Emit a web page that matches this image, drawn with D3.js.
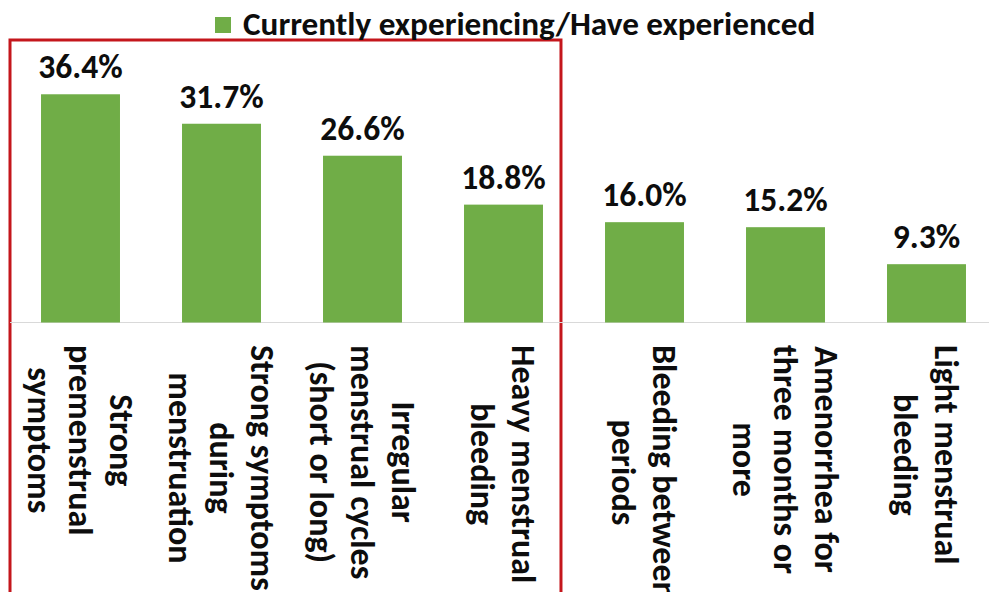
<!DOCTYPE html>
<html>
<head>
<meta charset="utf-8">
<script src="https://cdn.jsdelivr.net/npm/d3@7"></script>
<style>
  html, body { margin: 0; padding: 0; background: #ffffff; }
  svg { display: block; }
  text { font-family: Calibri, Carlito, Lato, "Liberation Sans", sans-serif; font-weight: bold; fill: #0d0d0d; }
</style>
</head>
<body>
<svg id="chart" width="989" height="592"></svg>
<script>
// Menstrual symptoms: share of respondents currently experiencing / having experienced
const categories = [
  ["Strong", "premenstrual", "symptoms"],
  ["Strong symptoms", "during", "menstruation"],
  ["Irregular", "menstrual cycles", "(short or long)"],
  ["Heavy menstrual", "bleeding"],
  ["Bleeding between", "periods"],
  ["Amenorrhea for", "three months or", "more"],
  ["Light menstrual", "bleeding"]
];
const values = [36.4, 31.7, 26.6, 18.8, 16.0, 15.2, 9.3];
const seriesName = "Currently experiencing/Have experienced";
const highlighted = 4; // first four categories are boxed

const W = 989, H = 592;
const baseY = 322.5;
const green = "#70ad47";
const red = "#c4161c";

const svg = d3.select("#chart");
const keys = categories.map(c => c.join(" "));

const x = d3.scaleBand()
  .domain(keys)
  .range([10, 997])
  .paddingInner(0.44)
  .paddingOuter(0.22);

const y = d3.scaleLinear()
  .domain([0, 40])
  .range([baseY, baseY - 40 * 6.27]);

// highlight box around the first group of categories
const boxLeft = 10;
const boxRight = x(keys[highlighted - 1]) + x.bandwidth() + 18;
svg.append("rect")
  .attr("x", boxLeft)
  .attr("y", 40)
  .attr("width", boxRight - boxLeft)
  .attr("height", H)
  .attr("fill", "none")
  .attr("stroke", red)
  .attr("stroke-width", 3);

// category axis line
svg.append("line")
  .attr("x1", x.range()[0]).attr("x2", x.range()[1])
  .attr("y1", baseY).attr("y2", baseY)
  .attr("stroke", "#d9d9d9")
  .attr("stroke-width", 1.2);

// bars
svg.append("g").selectAll("rect")
  .data(values)
  .join("rect")
  .attr("x", (d, i) => x(keys[i]))
  .attr("width", x.bandwidth())
  .attr("y", d => y(d))
  .attr("height", d => y(0) - y(d))
  .attr("fill", green);

// value labels
svg.append("g").selectAll("text")
  .data(values)
  .join("text")
  .attr("x", (d, i) => x(keys[i]) + x.bandwidth() / 2)
  .attr("y", d => y(d) - 16)
  .attr("text-anchor", "middle")
  .style("font-size", "33.5px")
  .text(d => d.toFixed(1) + "%");

// rotated category labels (reading top to bottom, first line rightmost)
const labelSize = 34;
const lineGap = 41;
const labelTop = 345;
const labelGroups = svg.append("g").selectAll("g")
  .data(categories)
  .join("g")
  .attr("transform", (d, i) => `translate(${x(keys[i]) + x.bandwidth() / 2},${labelTop}) rotate(90)`);

labelGroups.each(function(lines) {
  const g = d3.select(this);
  const texts = g.selectAll("text")
    .data(lines)
    .join("text")
    .style("font-size", labelSize + "px")
    .attr("text-anchor", "middle")
    .attr("y", (d, i) => (i - (lines.length - 1) / 2) * lineGap + labelSize * 0.35)
    .text(d => d);
  let maxLen = 0;
  texts.each(function() { maxLen = Math.max(maxLen, this.getComputedTextLength()); });
  texts.attr("x", maxLen / 2);
});

// legend
const legend = svg.append("g");
legend.append("rect")
  .attr("x", 215).attr("y", 17)
  .attr("width", 16).attr("height", 16)
  .attr("fill", green);
legend.append("text")
  .attr("x", 243).attr("y", 35)
  .style("font-size", "33.2px")
  .text(seriesName);
</script>
</body>
</html>
